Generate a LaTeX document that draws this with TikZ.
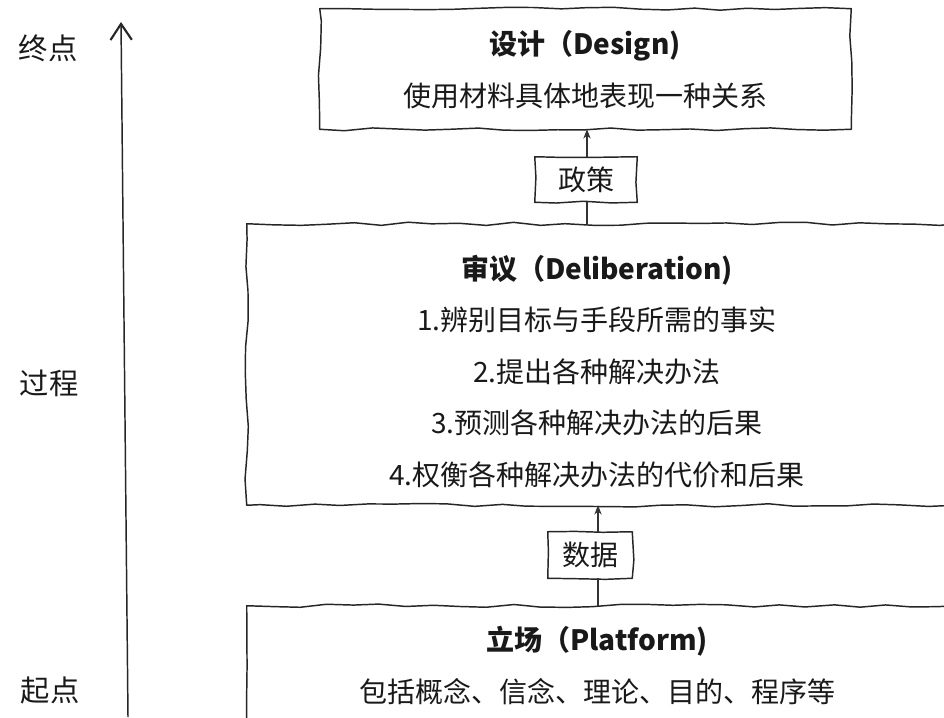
\documentclass[tikz,border=0pt]{standalone}
\usepackage{fontspec}
\setmainfont{Noto Sans CJK SC}
\usetikzlibrary{decorations.pathmorphing,arrows.meta}
\newdimen\px \px=0.75pt
\begin{document}
\begin{tikzpicture}[x=0.75pt,y=-0.75pt,
  sketch/.style={draw=black!85, line width=1.1pt, line join=round,
    decorate, decoration={random steps,segment length=20pt,amplitude=1.3pt}},
  bigbox/.style={rectangle, inner sep=0pt},
  txt/.style={font=\fontsize{21}{25}\selectfont, inner sep=0pt, text=black!90},
  ttl/.style={inner sep=0pt, text=black!90, font=\fontsize{21}{25}\selectfont\bfseries},
  side/.style={inner sep=0pt, text=black!90, font=\fontsize{22}{26}\selectfont},
  conn/.style={draw=black!80, line width=0.8pt},
  arr/.style={conn, -{Stealth[length=7pt,width=5.5pt]}},
  axis/.style={draw=black!85, line width=1.1pt, -{Straight Barb[length=12pt,width=16pt,line width=1.6pt]}}
]
\pgfmathsetseed{11}
\clip (0,0) rectangle (944,717);
\fill[white] (0,0) rectangle (944,717);

% side axis
\coordinate (axB) at (128,717);
\coordinate (axT) at (121,22);
\draw[axis] (axB) -- (axT);
\node[side] (lEnd) at (48,48) {终点};
\node[side] (lProc) at (49,383) {过程};
\node[side] (lStart) at (50,690) {起点};

% design
\node[bigbox, minimum width=531\px, minimum height=120\px] (design) at (585.5,69) {};
\node[ttl] (designT) at (585,46) {设计（Design)};
\node[txt] (designD) at (585,96) {使用材料具体地表现一种关系};

% policy
\node[bigbox, minimum width=102\px, minimum height=45\px] (policy) at (586,179.5) {};
\node[txt] (policyT) at (policy) {政策};

% deliberation
\node[bigbox, minimum width=707\px, minimum height=281\px] (delib) at (600.5,364.5) {};
\node[ttl] (delibT) at (597,270) {审议（Deliberation)};
\node[txt] (d1) at (597,320) {1.辨别目标与手段所需的事实};
\node[txt] (d2) at (597,372) {2.提出各种解决办法};
\node[txt] (d3) at (597,423) {3.预测各种解决办法的后果};
\node[txt] (d4) at (597,475) {4.权衡各种解决办法的代价和后果};

% data
\node[bigbox, minimum width=84\px, minimum height=46\px] (data) at (590,555) {};
\node[txt] (dataT) at (data) {数据};

% platform
\node[bigbox, minimum width=707\px, minimum height=140\px] (plat) at (600.5,676) {};
\node[ttl] (platT) at (597,641) {立场（Platform)};
\node[txt] (platD) at (597,692) {包括概念、信念、理论、目的、程序等};

% sketchy outlines
\foreach \b in {design,policy,delib,data,plat}
  \draw[sketch] (\b.north west) -- (\b.north east) -- (\b.south east) -- (\b.south west) -- cycle;

% connectors
\draw[arr] (policy.north -| 587,0) -- (design.south -| 587,0);
\draw[conn] (delib.north -| 587,0) -- (policy.south -| 587,0);
\draw[arr] (data.north -| 598,0) -- (delib.south -| 598,0);
\draw[conn] (plat.north -| 598,0) -- (data.south -| 598,0);
\end{tikzpicture}
\end{document}
